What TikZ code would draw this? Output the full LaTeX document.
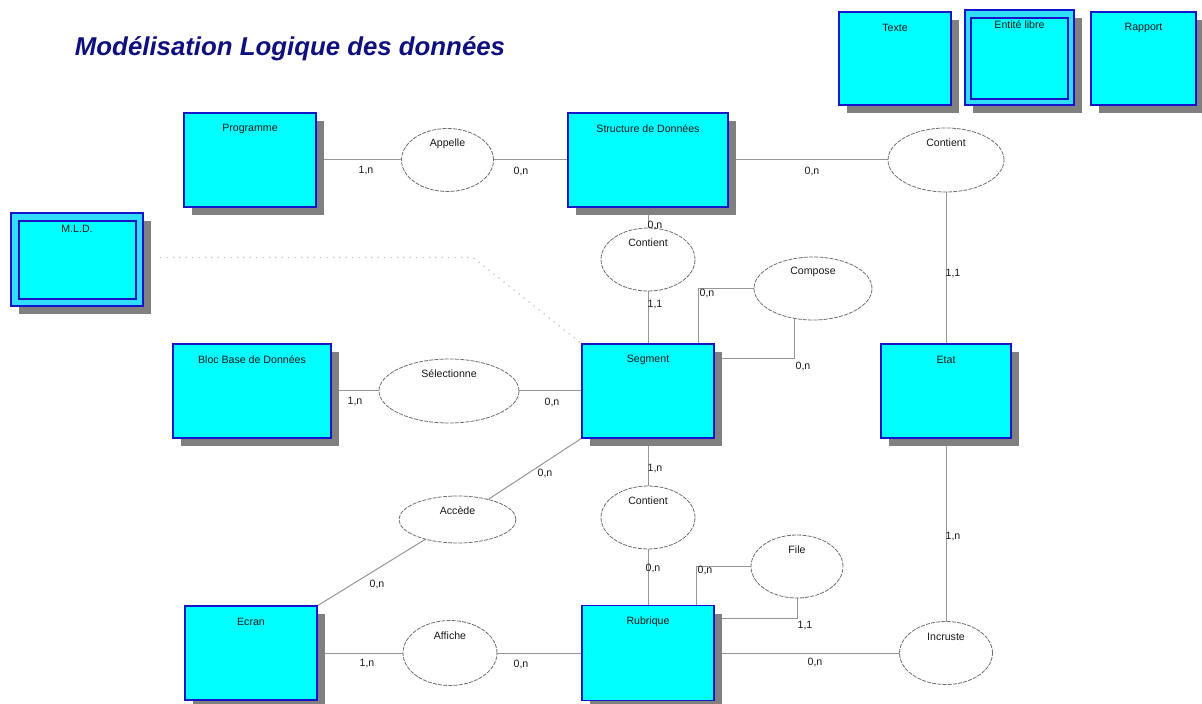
\documentclass[tikz,border=0pt]{standalone}
\usepackage{fontspec}
\setmainfont{Liberation Sans}
\usetikzlibrary{shapes.geometric,shadows,calc}
\pgfdeclarelayer{background}
\pgfdeclarelayer{paper}
\pgfsetlayers{paper,background,main}

\definecolor{entfill}{RGB}{0,255,255}
\definecolor{entdraw}{RGB}{20,20,200}
\definecolor{bandfill}{RGB}{50,222,255}
\definecolor{shade}{RGB}{128,128,128}
\definecolor{wire}{RGB}{150,150,150}
\definecolor{ellline}{RGB}{110,110,110}
\definecolor{titleblue}{RGB}{15,15,125}

\tikzset{
  txt/.style={font=\fontsize{5.3}{6.4}\selectfont, text=black!90, inner sep=0pt},
  card/.style={txt},
  ent/.style n args={3}{draw=entdraw, fill=entfill, line width=0.7pt,
    inner sep=0pt, outer sep=0pt,
    minimum width=#1*0.5pt, minimum height=#2*0.5pt,
    drop shadow={shadow xshift=4pt, shadow yshift=-4pt, fill=shade, opacity=1},
    label={[txt, anchor=center, yshift=-8pt]north:#3}},
  rel/.style n args={3}{ellipse, draw=ellline, line width=0.4pt,
    dash pattern=on 2pt off 0.6pt, fill=white,
    inner sep=0pt, outer sep=0pt,
    minimum width=#1*0.5pt, minimum height=#2*0.5pt,
    label={[txt, anchor=center, yshift=-7.5pt]north:#3}},
  link/.style={draw=wire, line width=0.5pt},
  ghost/.style={draw=gray!50, line width=0.6pt, dash pattern=on 0.6pt off 2.6pt},
}

\begin{document}
\begin{tikzpicture}[x=0.5pt, y=-0.5pt]
  \useasboundingbox (0,0) rectangle (1202,704);
  \begin{pgfonlayer}{paper}
    \fill[white] (0,0) rectangle (1202,704);
  \end{pgfonlayer}

  % title
  \node[font=\fontsize{12.9}{15}\selectfont\bfseries\itshape, text=titleblue, inner sep=0pt]
    (title) at (290,49) {Modélisation Logique des données};

  % legend boxes
  \node[ent={112}{93}{Texte}] (texte) at (895,58.5) {};
  \node[ent={109}{95}{}, fill=bandfill] (libre) at (1019.5,57.5) {};
  \draw[draw=entdraw, fill=entfill, line width=0.6pt]
    ([shift={(6,8)}]libre.north west) rectangle ([shift={(-6,-6)}]libre.south east);
  \node[txt] (libretxt) at ($(libre.north)+(0,15)$) {Entité libre};
  \node[ent={105}{93}{Rapport}] (rapport) at (1143.5,58.5) {};

  % entities
  \node[ent={132}{94}{Programme}] (prog) at (250,160) {};
  \node[ent={160}{94}{Structure de Données}] (struct) at (648,160) {};
  \node[ent={132}{93}{}, fill=bandfill] (mld) at (77,259.5) {};
  \draw[draw=entdraw, fill=entfill, line width=0.6pt]
    ([shift={(8,8)}]mld.north west) rectangle ([shift={(-7,-7)}]mld.south east);
  \node[txt] (mldtxt) at ($(mld.north)+(0,16)$) {M.L.D.};
  \node[ent={158}{94}{Bloc Base de Données}] (bloc) at (252,391) {};
  \node[ent={132}{94}{Segment}] (seg) at (648,391) {};
  \node[ent={130}{94}{Etat}] (etat) at (946,391) {};
  \node[ent={132}{94}{Ecran}] (ecran) at (251,653) {};
  \node[ent={132}{95}{Rubrique}] (rub) at (648,653) {};

  % associations
  \node[rel={92}{63}{Appelle}] (app) at (447.5,160) {};
  \node[rel={116}{64}{Contient}] (contR) at (946,160) {};
  \node[rel={94}{63}{Contient}] (contS) at (648,259.5) {};
  \node[rel={118}{63}{Compose}] (cmp) at (813,288.5) {};
  \node[rel={140}{64}{Sélectionne}] (selec) at (449,391) {};
  \node[rel={117}{47}{Accède}] (acc) at (457.5,519.5) {};
  \node[rel={94}{63}{Contient}] (contM) at (648,517.5) {};
  \node[rel={92}{63}{File}] (file) at (797,566.5) {};
  \node[rel={94}{65}{Affiche}] (aff) at (450,653) {};
  \node[rel={93}{63}{Incruste}] (inc) at (946,653) {};

  % connectors
  \begin{pgfonlayer}{background}
    \draw[link] (prog.east) -- (app.west);
    \draw[link] (app.east) -- (struct.west);
    \draw[link] (struct.east) -- (contR.west);
    \draw[link] (contR.south) -- (etat.north);
    \draw[link] (struct.south) -- (contS.north);
    \draw[link] (contS.south) -- (seg.north);
    \draw[link] (cmp.west) -| ($(seg.north west)+(116,0)$);
    \draw[link] (cmp.-121) |- ($(seg.north east)+(0,15)$);
    \draw[link] (bloc.east) -- (selec.west);
    \draw[link] (selec.east) -- (seg.west);
    \draw[link] (seg.south west) -- (acc);
    \draw[link] (acc) -- (ecran.north east);
    \draw[link] (seg.south) -- (contM.north);
    \draw[link] (contM.south) -- (rub.north);
    \draw[link] (file.west) -| ($(rub.north west)+(114,0)$);
    \draw[link] (file.south) |- ($(rub.north east)+(0,13)$);
    \draw[link] (rub.east) -- (inc.west);
    \draw[link] (inc.north) -- (etat.south);
    \draw[link] (ecran.east) -- (aff.west);
    \draw[link] (aff.east) -- (rub.west);
    % link from the M.L.D. frame
    \draw[ghost] ($(mld.east)+(17,-2)$) -- ($(mld.east)+(330,-2)$) -- (seg.north west);
  \end{pgfonlayer}

  % cardinalities
  \node[card] (c1) at (366,171) {1,n};
  \node[card] (c2) at (521,171) {0,n};
  \node[card] (c3) at (812,171) {0,n};
  \node[card] (c4) at (953,274) {1,1};
  \node[card] (c5) at (655,225) {0,n};
  \node[card] (c6) at (655,305) {1,1};
  \node[card] (c7) at (707,293) {0,n};
  \node[card] (c8) at (803,366) {0,n};
  \node[card] (c9) at (355,402) {1,n};
  \node[card] (c10) at (552,402) {0,n};
  \node[card] (c11) at (545,473) {0,n};
  \node[card] (c12) at (377,584) {0,n};
  \node[card] (c13) at (655,469) {1,n};
  \node[card] (c14) at (653,568) {0,n};
  \node[card] (c15) at (705,570) {0,n};
  \node[card] (c16) at (805,626) {1,1};
  \node[card] (c17) at (815,662) {0,n};
  \node[card] (c18) at (953,537) {1,n};
  \node[card] (c19) at (367,664) {1,n};
  \node[card] (c20) at (521,664) {0,n};
\end{tikzpicture}
\end{document}
